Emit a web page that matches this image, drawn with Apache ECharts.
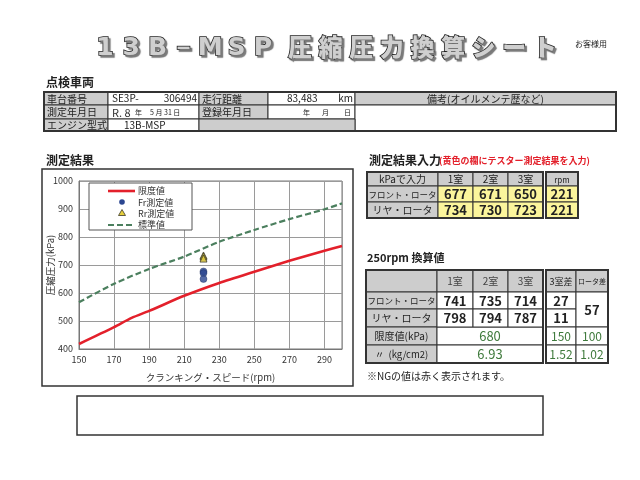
<!DOCTYPE html>
<html>
<head>
<meta charset="utf-8">
<script src="https://cdn.jsdelivr.net/npm/echarts@6/dist/echarts.min.js"></script>
<style>
  html, body { margin: 0; padding: 0; background: #fff; }
  #main { width: 640px; height: 480px; }
</style>
</head>
<body>
<div id="main"></div>
<script>
// グラフのデータ
var limitRpm = [150, 170, 180, 190, 210, 230, 250, 270, 290, 300];
var limitVal = [418, 478, 511, 536, 590, 636, 676, 715, 751, 768];        // 限度値
var standardRpm = [150, 170, 190, 210, 230, 250, 270, 290, 300];
var standardVal = [567, 633, 686, 730, 783, 825, 864, 899, 920];          // 標準値
var measuredRpm = 221;
var frontInput = [677, 671, 650];   // フロント・ロータ
var rearInput = [734, 730, 723];    // リヤ・ロータ
var rpmInput = [221, 221];
var xTicks = [150, 170, 190, 210, 230, 250, 270, 290];
var yTicks = [400, 500, 600, 700, 800, 900, 1000];
var legendNames = ['限度値', 'Fr測定値', 'Rr測定値', '標準値'];

// 250rpm 換算値
var chambers = ['1室', '2室', '3室'];
var frontConv = [741, 735, 714];
var rearConv = [798, 794, 787];
var chamberDiff = [27, 11];
var rotorDiff = 57;
var limitKpa = 680, limitKg = '6.93';
var diffLimitKpa = [150, 100];
var diffLimitKg = ['1.52', '1.02'];

var FONT = '"Noto Sans CJK JP", "Noto Sans", sans-serif';
var GREY = '#cdcdcd', YELLOW = '#fbf59c', LINE = '#333', GREEN = '#3f7a3c';
var RED = '#e3202b', DGREEN = '#4b7f5e', BLUE = '#2b4690';

var els = [];
function txt(x, y, s, size, opt) {
    opt = opt || {};
    els.push({
        type: 'text', x: x, y: y, z: 10, rotation: opt.rotation || 0,
        style: {
            text: s, fill: opt.color || '#222',
            font: (opt.bold ? 'bold ' : '') + size + 'px ' + FONT,
            align: opt.align || 'left', verticalAlign: 'middle'
        }
    });
}
function box(x, y, w, h, fill, lw) {
    els.push({
        type: 'rect', z: 5,
        shape: { x: x, y: y, width: w, height: h },
        style: { fill: fill || 'none', stroke: LINE, lineWidth: lw || 1 }
    });
}
// セル配列からテーブルを描く
function table(colX, rowY, cells) {
    cells.forEach(function (c) {
        var cs = c.cs || 1, rs = c.rs || 1;
        var x0 = colX[c.c], x1 = colX[c.c + cs], y0 = rowY[c.r], y1 = rowY[c.r + rs];
        box(x0, y0, x1 - x0, y1 - y0, c.fill || '#fff');
        if (c.t !== undefined && c.t !== '') {
            var al = c.align || 'center';
            var tx = al === 'left' ? x0 + 3 : (al === 'right' ? x1 - 3 : (x0 + x1) / 2);
            txt(tx, (y0 + y1) / 2 + 0.5, String(c.t), c.size || 10, { bold: c.bold, color: c.color, align: al });
        }
    });
    var L = colX[0], R = colX[colX.length - 1], T = rowY[0], B = rowY[rowY.length - 1];
    box(L, T, R - L, B - T, 'none', 2);
}

// タイトル
var titleL = ['1', '3', 'B', '－', 'M', 'S', 'P'];
var titleJ = ['圧', '縮', '圧', '力', '換', '算', 'シ', 'ー', 'ト'];
var titleStyle = function (ch, font) {
    return { text: ch, font: font, fill: '#cfcfcf', stroke: '#1e1e1e', lineWidth: 1.6,
        align: 'center', verticalAlign: 'middle',
        textShadowColor: '#777', textShadowOffsetX: 2, textShadowOffsetY: 2, textShadowBlur: 1 };
};
titleL.forEach(function (ch, i) {
    els.push({ type: 'text', x: 105 + i * 26.3, y: 48, z: 10, style: titleStyle(ch, '900 25px "DejaVu Sans", sans-serif') });
});
titleJ.forEach(function (ch, i) {
    els.push({ type: 'text', x: 300 + i * 30.6, y: 47, z: 10, style: titleStyle(ch, '900 24px ' + FONT) });
});
txt(575, 44, 'お客様用', 8);

// 点検車両
txt(46, 82, '点検車両', 12, { bold: true });
var vCol = [44, 108, 199, 268, 355, 616], vRow = [92, 105, 119, 131];
table(vCol, vRow, [
    { r: 0, c: 0, fill: GREY, t: '車台番号', align: 'left' },
    { r: 0, c: 1 },
    { r: 0, c: 2, fill: GREY, t: '走行距離', align: 'left' },
    { r: 0, c: 3 },
    { r: 0, c: 4, fill: GREY, t: '備考(オイルメンテ歴など)' },
    { r: 1, c: 0, fill: GREY, t: '測定年月日', align: 'left' },
    { r: 1, c: 1 },
    { r: 1, c: 2, fill: GREY, t: '登録年月日', align: 'left' },
    { r: 1, c: 3 },
    { r: 1, c: 4, rs: 2 },
    { r: 2, c: 0, fill: GREY, t: 'エンジン型式', align: 'left' },
    { r: 2, c: 1 },
    { r: 2, c: 2, cs: 2, fill: GREY }
]);
txt(112, 98.5, 'SE3P-', 10);
txt(197, 98.5, '306494', 10, { align: 'right' });
txt(287, 98.5, '83,483', 10);
txt(353, 98.5, 'km', 10, { align: 'right' });
txt(112, 112.5, 'R. 8', 11, { color: '#333' });
txt(135, 112.5, '年', 7);
txt(150, 112.5, '5 月 31 日', 7);
txt(303, 112.5, '年', 7);
txt(322, 112.5, '月', 7);
txt(344, 112.5, '日', 7);
txt(124, 125.5, '13B-MSP', 10);

// 測定結果
txt(46, 160, '測定結果', 12, { bold: true });
box(42, 169, 311, 217, 'none', 1.5);
// 縦軸名
txt(50, 265, '圧縮圧力(kPa)', 9.5, { color: '#333', align: 'center', rotation: Math.PI / 2 });

// 凡例
els.push({ type: 'rect', z: 20, shape: { x: 89, y: 183, width: 103, height: 47 },
    style: { fill: '#fff', stroke: '#555', lineWidth: 1 } });
els.push({ type: 'line', z: 21, shape: { x1: 108, y1: 191, x2: 135, y2: 191 }, style: { stroke: RED, lineWidth: 2.6 } });
els.push({ type: 'circle', z: 21, shape: { cx: 122, cy: 202, r: 2.8 }, style: { fill: BLUE } });
els.push({ type: 'polygon', z: 21, shape: { points: [[122, 209.5], [125.5, 215.5], [118.5, 215.5]] },
    style: { fill: '#e6cf3c', stroke: '#3c3a28', lineWidth: 0.8 } });
els.push({ type: 'line', z: 21, shape: { x1: 108, y1: 225, x2: 135, y2: 225 },
    style: { stroke: DGREEN, lineWidth: 2.2, lineDash: [6, 3] } });
legendNames.forEach(function (n, i) {
    els.push({ type: 'text', z: 22, x: 138, y: 191 + i * 11.3,
        style: { text: n, font: '9px ' + FONT, fill: '#333', verticalAlign: 'middle' } });
});

// 測定結果入力
txt(369, 160, '測定結果入力', 12, { bold: true });
txt(439, 161, '(黄色の欄にテスター測定結果を入力)', 9, { bold: true, color: RED });
var iCol = [367, 438, 473, 508, 543], iRow = [172, 186, 202, 218];
var iCells = [
    { r: 0, c: 0, fill: GREY, t: 'kPaで入力' },
    { r: 1, c: 0, fill: GREY, t: 'フロント・ロータ', size: 8.5 },
    { r: 2, c: 0, fill: GREY, t: 'リヤ・ロータ' }
];
chambers.forEach(function (ch, i) {
    iCells.push({ r: 0, c: i + 1, fill: GREY, t: ch });
    iCells.push({ r: 1, c: i + 1, fill: YELLOW, t: frontInput[i], size: 13, bold: true });
    iCells.push({ r: 2, c: i + 1, fill: YELLOW, t: rearInput[i], size: 13, bold: true });
});
table(iCol, iRow, iCells);
table([546, 578], iRow, [
    { r: 0, c: 0, fill: GREY, t: 'rpm', size: 8 },
    { r: 1, c: 0, fill: YELLOW, t: rpmInput[0], size: 13, bold: true },
    { r: 2, c: 0, fill: YELLOW, t: rpmInput[1], size: 13, bold: true }
]);

// 250rpm 換算値
txt(367, 258, '250rpm 換算値', 11, { bold: true });
var cCol = [366, 437, 473, 508, 543], cRow = [270, 292, 309, 327, 345, 363];
var cCells = [
    { r: 0, c: 0, fill: GREY },
    { r: 1, c: 0, fill: GREY, t: 'フロント・ロータ', size: 8.5 },
    { r: 2, c: 0, fill: GREY, t: 'リヤ・ロータ' },
    { r: 3, c: 0, fill: GREY, t: '限度値(kPa)' },
    { r: 4, c: 0, fill: GREY, t: '〃  (kg/cm2)', size: 9.5 },
    { r: 3, c: 1, cs: 3, t: limitKpa, size: 13, color: GREEN },
    { r: 4, c: 1, cs: 3, t: limitKg, size: 13, color: GREEN }
];
chambers.forEach(function (ch, i) {
    cCells.push({ r: 0, c: i + 1, fill: GREY, t: ch, color: '#444' });
    cCells.push({ r: 1, c: i + 1, t: frontConv[i], size: 13, bold: true });
    cCells.push({ r: 2, c: i + 1, t: rearConv[i], size: 13, bold: true });
});
table(cCol, cRow, cCells);
table([546, 576, 608], cRow, [
    { r: 0, c: 0, fill: GREY, t: '3室差', size: 9 },
    { r: 0, c: 1, fill: GREY, t: 'ロータ差', size: 7 },
    { r: 1, c: 0, t: chamberDiff[0], size: 13, bold: true },
    { r: 2, c: 0, t: chamberDiff[1], size: 13, bold: true },
    { r: 1, c: 1, rs: 2, t: rotorDiff, size: 13, bold: true },
    { r: 3, c: 0, t: diffLimitKpa[0], size: 12, color: GREEN },
    { r: 3, c: 1, t: diffLimitKpa[1], size: 12, color: GREEN },
    { r: 4, c: 0, t: diffLimitKg[0], size: 12, color: GREEN },
    { r: 4, c: 1, t: diffLimitKg[1], size: 12, color: GREEN }
]);
txt(367, 376, '※NGの値は赤く表示されます。', 10);

// 下の空欄
box(77, 396, 466, 39, 'none', 1.5);

function pairs(xs, ys) {
    return xs.map(function (x, i) { return [x, ys[i]]; });
}

var chart = echarts.init(document.getElementById('main'));
var option = {
    backgroundColor: '#fff',
    animation: false,
    textStyle: { fontFamily: FONT },
    grid: { left: 79, top: 181, width: 263, height: 168, show: true, borderColor: '#777', borderWidth: 1 },
    xAxis: {
        type: 'value', min: 150, max: 300, interval: 20,
        name: 'クランキング・スピード(rpm)', nameLocation: 'middle', nameGap: 24,
        nameTextStyle: { fontSize: 9.5, color: '#333' },
        axisLine: { lineStyle: { color: '#777' } },
        axisTick: { show: false },
        axisLabel: { fontSize: 9, color: '#333', margin: 6,
            formatter: function (v) { return xTicks.indexOf(v) >= 0 ? String(v) : ''; } },
        splitLine: { lineStyle: { color: '#9a9a9a', width: 1 } }
    },
    yAxis: {
        type: 'value', min: yTicks[0], max: yTicks[yTicks.length - 1], interval: 100,
        axisLine: { show: true, lineStyle: { color: '#777' } },
        axisTick: { show: false },
        axisLabel: { fontSize: 9, color: '#333', margin: 6,
            formatter: function (v) { return String(v); } },
        splitLine: { lineStyle: { color: '#9a9a9a', width: 1 } }
    },
    series: [
        {
            name: legendNames[0], type: 'line', symbol: 'none', smooth: 0.25,
            lineStyle: { color: RED, width: 2.6 },
            data: pairs(limitRpm, limitVal), z: 3
        },
        {
            name: legendNames[1], type: 'scatter', symbol: 'circle', symbolSize: 7,
            itemStyle: { color: BLUE, borderColor: '#1d2f60', borderWidth: 0.5 },
            data: frontInput.map(function (v) { return [measuredRpm, v]; }), z: 5
        },
        {
            name: legendNames[2], type: 'scatter', symbol: 'triangle', symbolSize: 7,
            itemStyle: { color: '#e6cf3c', borderColor: '#3c3a28', borderWidth: 1 },
            data: rearInput.map(function (v) { return [measuredRpm, v]; }), z: 5
        },
        {
            name: legendNames[3], type: 'line', symbol: 'none', smooth: 0.25,
            lineStyle: { color: DGREEN, width: 2.2, type: [6, 3] },
            data: pairs(standardRpm, standardVal), z: 3
        }
    ],
    graphic: els
};
chart.setOption(option);
</script>
</body>
</html>
